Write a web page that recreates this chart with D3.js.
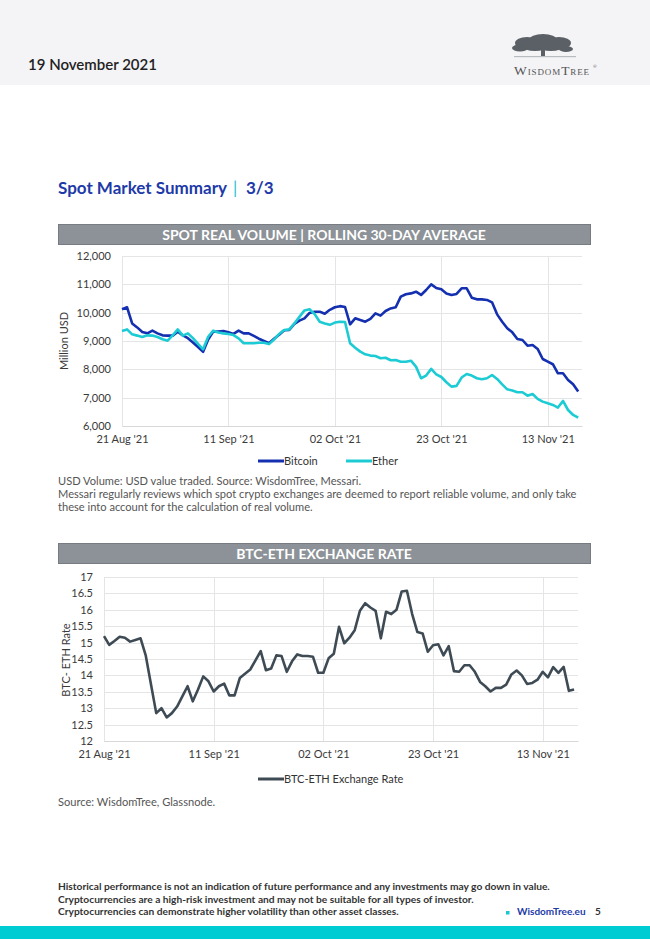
<!DOCTYPE html>
<html>
<head>
<meta charset="utf-8">
<script src="https://cdn.jsdelivr.net/npm/d3@7"></script>
<style>
    body { margin: 0; background: #fff; }
    svg { display: block; font-family: Lato, "Open Sans", sans-serif; }
    .gridline line { stroke: #e3e5e7; stroke-width: 1; }
    .tick text { fill: #3a3a3a; font-size: 11px; }
</style>
</head>
<body>
<script>
(function(){

    //x axis dates and tick labels (one value per day from 21 Aug '21)
    var startDate = "2021-08-21";
    var xTickDates = ["2021-08-21", "2021-09-11", "2021-10-02", "2021-10-23", "2021-11-13"];

    //spot real volume, rolling 30-day average, million USD
    var bitcoin = [10120, 10190, 9620, 9480, 9320, 9270, 9365, 9270, 9200, 9190,
        9190, 9330, 9200, 9100, 8950, 8790, 8620, 9050, 9330, 9330,
        9350, 9305, 9250, 9365, 9270, 9270, 9180, 9080, 9000, 8920,
        9080, 9220, 9380, 9390, 9600, 9720, 9800, 9990, 10035, 10035,
        9960, 10100, 10190, 10230, 10200, 9590, 9800, 9740, 9680, 9780,
        9975, 9895, 10060, 10150, 10190, 10565, 10650, 10680, 10740, 10625,
        10800, 11000, 10870, 10825, 10680, 10625, 10660, 10860, 10860, 10530,
        10470, 10470, 10450, 10365, 9940, 9680, 9450, 9305, 9070, 9035,
        8835, 8860, 8720, 8365, 8270, 8180, 7860, 7860, 7625, 7470, 7215];

    var ether = [9355, 9410, 9235, 9190, 9140, 9200, 9190, 9140, 9060, 9010,
        9200, 9410, 9190, 9270, 9100, 8895, 8705, 9150, 9365, 9300,
        9270, 9250, 9210, 9095, 8920, 8920, 8920, 8940, 8940, 8890,
        9050, 9250, 9390, 9410, 9620, 9850, 10080, 10120, 9950, 9680,
        9620, 9570, 9650, 9680, 9670, 8920, 8765, 8625, 8530, 8485,
        8470, 8390, 8410, 8320, 8330, 8270, 8270, 8305, 8095, 7685,
        7780, 8015, 7825, 7730, 7545, 7390, 7415, 7710, 7835, 7780,
        7685, 7650, 7685, 7800, 7660, 7470, 7295, 7250, 7190, 7190,
        7070, 7130, 6955, 6860, 6800, 6745, 6650, 6885, 6565, 6390, 6295];

    //BTC-ETH exchange rate
    var btcEth = [15.2, 14.93, 15.05, 15.18, 15.15, 15.03, 15.08, 15.13, 14.6, 13.72,
        12.85, 13.0, 12.72, 12.85, 13.05, 13.36, 13.67, 13.21, 13.57, 13.97,
        13.82, 13.51, 13.67, 13.75, 13.39, 13.39, 13.92, 14.05, 14.18, 14.46,
        14.74, 14.16, 14.21, 14.61, 14.59, 14.11, 14.43, 14.64, 14.59, 14.59,
        14.57, 14.08, 14.08, 14.52, 14.66, 15.48, 14.98, 15.15, 15.38, 15.97,
        16.2, 16.07, 15.97, 15.13, 15.94, 15.87, 16.0, 16.56, 16.58, 15.87,
        15.32, 15.28, 14.72, 14.92, 14.95, 14.61, 14.89, 14.13, 14.11, 14.31,
        14.31, 14.11, 13.8, 13.67, 13.51, 13.62, 13.62, 13.72, 14.03, 14.15,
        14.0, 13.74, 13.77, 13.87, 14.11, 13.94, 14.25, 14.08, 14.26, 13.53, 13.57];

    var volumeTicks = [6000, 7000, 8000, 9000, 10000, 11000, 12000];
    var rateTicks = [12, 12.5, 13, 13.5, 14, 14.5, 15, 15.5, 16, 16.5, 17];

    var parseDate = d3.timeParse("%Y-%m-%d");
    var fmtDate = d3.timeFormat("%d %b '%y");
    var start = parseDate(startDate);
    var tickDates = xTickDates.map(parseDate);

    function dateOf(i){
        return d3.timeDay.offset(start, i);
    };

    var width = 650,
        height = 939;

    var svg = d3.select("body")
        .append("svg")
        .attr("width", width)
        .attr("height", height);

    //page header
    svg.append("rect")
        .attr("x", 0).attr("y", 0)
        .attr("width", width).attr("height", 85)
        .attr("fill", "#f4f4f6");

    svg.append("text")
        .attr("x", 28).attr("y", 70)
        .attr("font-size", 15)
        .attr("font-weight", 600)
        .attr("fill", "#222")
        .text("19 November 2021");

    drawLogo(svg);

    //section title
    var titleStyle = function(t){
        return t.attr("y", 194).attr("font-size", 17).attr("font-weight", 700).attr("fill", "#1d3aa8");
    };
    titleStyle(svg.append("text").attr("x", 58)).text("Spot Market Summary");
    titleStyle(svg.append("text").attr("x", 233)).attr("fill", "#19c6d1").attr("font-weight", 400).text("|");
    titleStyle(svg.append("text").attr("x", 246)).text("3/3");

    //chart 1
    drawBanner(svg, 224, "SPOT REAL VOLUME | ROLLING 30-DAY AVERAGE");

    var chart1 = {left: 122, right: 582, top: 256, bottom: 426};
    var x1 = d3.scaleTime()
        .domain([start, d3.timeHour.offset(start, 90 * 24 + 18)])
        .range([chart1.left, chart1.right]);
    var y1 = d3.scaleLinear()
        .domain([6000, 12000])
        .range([chart1.bottom, chart1.top]);

    drawFrame(svg, chart1, x1, y1, volumeTicks, d3.format(","));

    [[bitcoin, "#1430b0"], [ether, "#1ccbd4"]].forEach(function(s){
        var line = d3.line()
            .x(function(d, i){ return x1(dateOf(i)); })
            .y(function(d){ return y1(d); });
        svg.append("path")
            .datum(s[0])
            .attr("fill", "none")
            .attr("stroke", s[1])
            .attr("stroke-width", 2.6)
            .attr("stroke-linejoin", "round")
            .attr("d", line);
    });

    svg.append("text")
        .attr("transform", "translate(68," + ((chart1.top + chart1.bottom) / 2) + ") rotate(-90)")
        .attr("text-anchor", "middle")
        .attr("font-size", 11)
        .attr("fill", "#3a3a3a")
        .text("Million USD");

    drawLegend(svg, 258, 461, "#1430b0", "Bitcoin");
    drawLegend(svg, 346, 461, "#1ccbd4", "Ether");

    var notes = ["USD Volume: USD value traded. Source: WisdomTree, Messari.",
        "Messari regularly reviews which spot crypto exchanges are deemed to report reliable volume, and only take",
        "these into account for the calculation of real volume."];
    svg.selectAll(".note")
        .data(notes)
        .enter()
        .append("text")
        .attr("class", "note")
        .attr("x", 58)
        .attr("y", function(d, i){ return 485 + i * 13; })
        .attr("font-size", 11.1)
        .attr("fill", "#555")
        .text(function(d){ return d; });

    //chart 2
    drawBanner(svg, 543, "BTC-ETH EXCHANGE RATE");

    var chart2 = {left: 104, right: 578, top: 577, bottom: 741};
    var x2 = d3.scaleTime()
        .domain([start, d3.timeHour.offset(start, 90 * 24 + 18)])
        .range([chart2.left, chart2.right]);
    var y2 = d3.scaleLinear()
        .domain([12, 17])
        .range([chart2.bottom, chart2.top]);

    drawFrame(svg, chart2, x2, y2, rateTicks, d3.format(""));

    var rateLine = d3.line()
        .x(function(d, i){ return x2(dateOf(i)); })
        .y(function(d){ return y2(d); });
    svg.append("path")
        .datum(btcEth)
        .attr("fill", "none")
        .attr("stroke", "#3e4b55")
        .attr("stroke-width", 2.6)
        .attr("stroke-linejoin", "round")
        .attr("d", rateLine);

    svg.append("text")
        .attr("transform", "translate(70,660) rotate(-90)")
        .attr("text-anchor", "middle")
        .attr("font-size", 11)
        .attr("fill", "#3a3a3a")
        .text("BTC- ETH Rate");

    drawLegend(svg, 258, 779, "#3e4b55", "BTC-ETH Exchange Rate");

    svg.append("text")
        .attr("x", 58).attr("y", 806)
        .attr("font-size", 11.1)
        .attr("fill", "#555")
        .text("Source: WisdomTree, Glassnode.");

    //footer
    var footer = ["Historical performance is not an indication of future performance and any investments may go down in value.",
        "Cryptocurrencies are a high-risk investment and may not be suitable for all types of investor.",
        "Cryptocurrencies can demonstrate higher volatility than other asset classes."];
    svg.selectAll(".foot")
        .data(footer)
        .enter()
        .append("text")
        .attr("class", "foot")
        .attr("x", 58)
        .attr("y", function(d, i){ return 890 + i * 12.5; })
        .attr("font-size", 10.2)
        .attr("font-weight", 700)
        .attr("fill", "#333")
        .text(function(d){ return d; });

    svg.append("rect")
        .attr("x", 506).attr("y", 911)
        .attr("width", 3.5).attr("height", 3.5)
        .attr("fill", "#19c6d1");
    svg.append("text")
        .attr("x", 517).attr("y", 915)
        .attr("font-size", 10)
        .attr("font-weight", 700)
        .attr("fill", "#1d3aa8")
        .text("WisdomTree.eu");
    svg.append("text")
        .attr("x", 595).attr("y", 915)
        .attr("font-size", 10)
        .attr("font-weight", 700)
        .attr("fill", "#333")
        .text("5");

    svg.append("rect")
        .attr("x", 0).attr("y", 926)
        .attr("width", width).attr("height", 13)
        .attr("fill", "#00cdd3");

    //grey banner above each chart
    function drawBanner(svg, y, label){
        svg.append("rect")
            .attr("x", 58.5).attr("y", y + 0.5)
            .attr("width", 532).attr("height", 20)
            .attr("fill", "#8c9297")
            .attr("stroke", "#767c82");
        svg.append("text")
            .attr("x", 324).attr("y", y + 15.5)
            .attr("text-anchor", "middle")
            .attr("font-size", 14)
            .attr("font-weight", 700)
            .attr("fill", "#fff")
            .text(label);
    };

    //gridlines, axes and tick labels
    function drawFrame(svg, box, x, y, yTicks, yFormat){
        svg.append("g")
            .attr("class", "gridline")
            .selectAll("line")
            .data(yTicks)
            .enter()
            .append("line")
            .attr("x1", box.left).attr("x2", box.right)
            .attr("y1", function(d){ return Math.round(y(d)) + 0.5; })
            .attr("y2", function(d){ return Math.round(y(d)) + 0.5; });

        svg.append("g")
            .attr("class", "gridline")
            .selectAll("line")
            .data(tickDates)
            .enter()
            .append("line")
            .attr("x1", function(d){ return Math.round(x(d)) + 0.5; })
            .attr("x2", function(d){ return Math.round(x(d)) + 0.5; })
            .attr("y1", box.top).attr("y2", box.bottom);

        var xAxis = svg.append("g")
            .attr("transform", "translate(0," + box.bottom + ")")
            .call(d3.axisBottom(x).tickValues(tickDates).tickFormat(fmtDate).tickSize(0).tickPadding(9));
        xAxis.select(".domain").attr("stroke", "#d6d8da");

        var yAxis = svg.append("g")
            .attr("transform", "translate(" + (box.left - 8) + ",0)")
            .call(d3.axisLeft(y).tickValues(yTicks).tickFormat(yFormat).tickSize(0).tickPadding(3));
        yAxis.select(".domain").remove();
        svg.selectAll(".tick text").attr("font-family", "Lato, sans-serif");
    };

    function drawLegend(svg, x, y, color, label){
        svg.append("line")
            .attr("x1", x).attr("x2", x + 26)
            .attr("y1", y).attr("y2", y)
            .attr("stroke", color)
            .attr("stroke-width", 3);
        svg.append("text")
            .attr("x", x + 26).attr("y", y + 4)
            .attr("font-size", 11)
            .attr("fill", "#333")
            .text(label);
    };

    //WisdomTree logo, tree shape plus wordmark
    function drawLogo(svg){
        var g = svg.append("g").attr("fill", "#5a6065");
        var blobs = [[527, 43, 12, 6], [543, 40, 14, 6], [559, 43, 12, 6], [520, 48, 8, 3.5],
            [535, 47, 12, 4], [551, 47, 12, 4], [566, 49, 7, 3]];
        g.selectAll("ellipse")
            .data(blobs)
            .enter()
            .append("ellipse")
            .attr("cx", function(d){ return d[0]; })
            .attr("cy", function(d){ return d[1]; })
            .attr("rx", function(d){ return d[2]; })
            .attr("ry", function(d){ return d[3]; });
        g.append("rect")
            .attr("x", 541).attr("y", 48)
            .attr("width", 4).attr("height", 8);
        g.append("rect")
            .attr("x", 514).attr("y", 56)
            .attr("width", 62).attr("height", 1.2)
            .attr("fill", "#b8bcc0");
        svg.append("text")
            .attr("x", 514).attr("y", 75)
            .attr("font-family", "'Liberation Serif', serif")
            .attr("font-size", 13.5)
            .attr("font-variant", "small-caps")
            .attr("letter-spacing", 0.9)
            .attr("fill", "#555")
            .text("WisdomTree");
        svg.append("text")
            .attr("x", 593).attr("y", 68)
            .attr("font-size", 4.5)
            .attr("fill", "#555")
            .text("®");
    };

})();
</script>
</body>
</html>
